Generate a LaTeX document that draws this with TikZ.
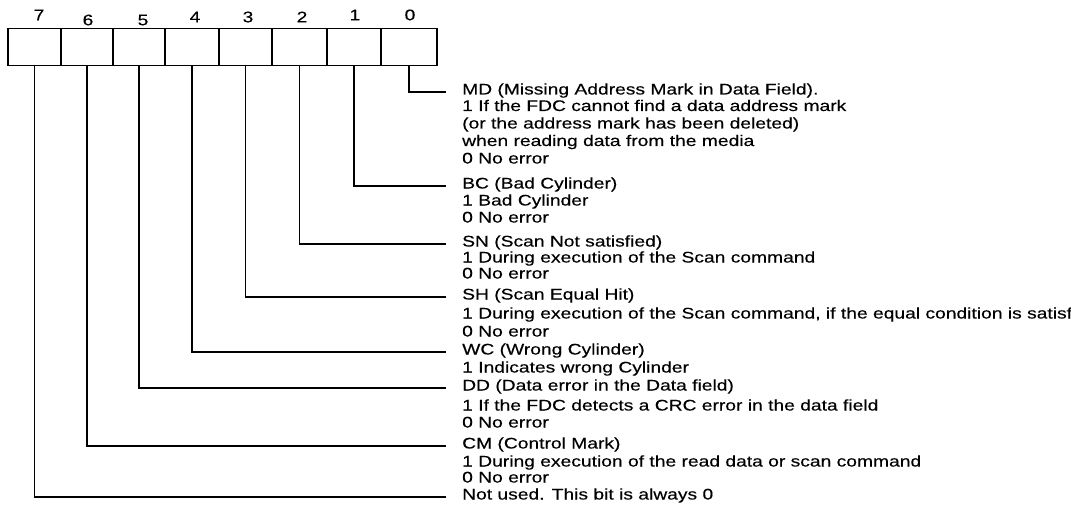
\documentclass[tikz,border=0pt]{standalone}
\usepackage{fontspec}
\setmainfont{Liberation Sans}[FakeStretch=1.25,FakeBold=0.3]
\begin{document}
\begin{tikzpicture}[x=1pt,y=-1pt,
  cell/.style={draw, line width=1.5pt, minimum height=37pt, inner sep=0pt, anchor=north west},
  wire/.style={line width=1.5pt},
  bitlab/.style={inner sep=0pt, font=\fontsize{15.4}{17}\selectfont},
  head/.style={anchor=west, inner xsep=16pt, inner ysep=0pt, text height=9pt, text depth=4pt, font=\fontsize{15.4}{17}\selectfont},
  desc/.style={anchor=base west, inner sep=0pt, font=\fontsize{15.4}{17}\selectfont}]
\useasboundingbox (0,0) rectangle (1071,508);
% register cells
\node[cell, minimum width=53pt] (b7) at (7,28) {};
\node[cell, minimum width=52pt] (b6) at (60,28) {};
\node[cell, minimum width=52pt] (b5) at (112,28) {};
\node[cell, minimum width=54pt] (b4) at (164,28) {};
\node[cell, minimum width=53pt] (b3) at (218,28) {};
\node[cell, minimum width=55pt] (b2) at (271,28) {};
\node[cell, minimum width=54pt] (b1) at (326,28) {};
\node[cell, minimum width=56pt] (b0) at (380,28) {};
% bit numbers
\node[bitlab] (l7) at (39,15) {7};
\node[bitlab] (l6) at (88,20) {6};
\node[bitlab] (l5) at (143,20) {5};
\node[bitlab] (l4) at (195,17) {4};
\node[bitlab] (l3) at (248,17) {3};
\node[bitlab] (l2) at (302,17) {2};
\node[bitlab] (l1) at (355,15) {1};
\node[bitlab] (l0) at (410,15) {0};
% headings
\node[head] (h0) at (446,92) {MD (Missing Address Mark in Data Field).};
\node[head] (h1) at (446,186) {BC (Bad Cylinder)};
\node[head] (h2) at (446,244) {SN (Scan Not satisfied)};
\node[head] (h3) at (446,297) {SH (Scan Equal Hit)};
\node[head] (h4) at (446,352) {WC (Wrong Cylinder)};
\node[head] (h5) at (446,388) {DD (Data error in the Data field)};
\node[head] (h6) at (446,446) {CM (Control Mark)};
\node[head] (h7) at (446,497) {Not used. This bit is always 0};
% descriptions
\node[desc] (d0a) at (462,111) {1 If the FDC cannot find a data address mark};
\node[desc] (d0b) at (462,128.5) {(or the address mark has been deleted)};
\node[desc] (d0c) at (462,146) {when reading data from the media};
\node[desc] (d0d) at (462,163.5) {0 No error};
\node[desc] (d1a) at (462,205.5) {1 Bad Cylinder};
\node[desc] (d1b) at (462,222.5) {0 No error};
\node[desc] (d2a) at (462,262.5) {1 During execution of the Scan command};
\node[desc] (d2b) at (462,278.5) {0 No error};
\node[desc] (d3a) at (462,318.5) {1 During execution of the Scan command, if the equal condition is satisf};
\node[desc] (d3b) at (462,336.5) {0 No error};
\node[desc] (d4a) at (462,372.5) {1 Indicates wrong Cylinder};
\node[desc] (d5a) at (462,410.5) {1 If the FDC detects a CRC error in the data field};
\node[desc] (d5b) at (462,427.5) {0 No error};
\node[desc] (d6a) at (462,466.5) {1 During execution of the read data or scan command};
\node[desc] (d6b) at (462,482.5) {0 No error};
% leaders
\draw[wire] (b0.south) |- (h0.west);
\draw[wire] (b1.south) |- (h1.west);
\draw[wire] (b2.south) |- (h2.west);
\draw[wire] (b3.south) |- (h3.west);
\draw[wire] (b4.south) |- (h4.west);
\draw[wire] (b5.south) |- (h5.west);
\draw[wire] (b6.south) |- (h6.west);
\draw[wire] (b7.south) |- (h7.west);
\end{tikzpicture}
\end{document}
